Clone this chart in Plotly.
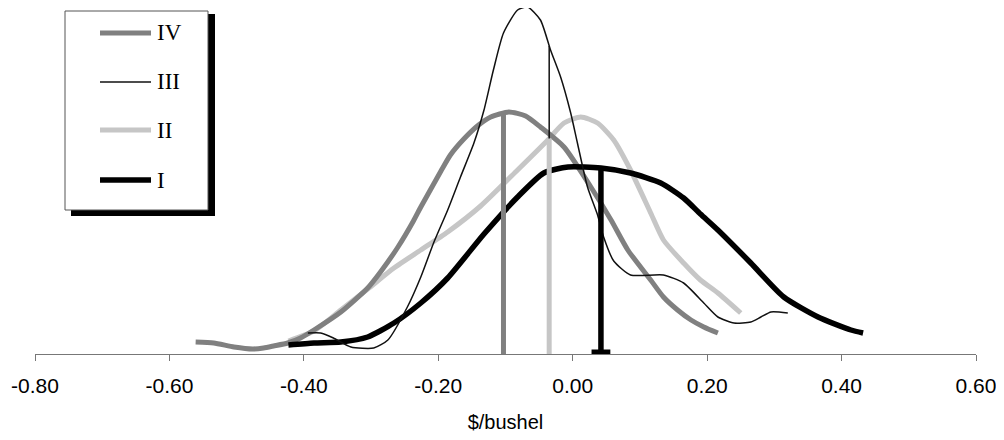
import numpy as np
import plotly.graph_objects as go

# ---------------- data ----------------
tick_vals = [-0.80, -0.60, -0.40, -0.20, 0.00, 0.20, 0.40, 0.60]
tick_text = ["-0.80", "-0.60", "-0.40", "-0.20", "0.00", "0.20", "0.40", "0.60"]
x_title = "$/bushel"

series_names = ["IV", "III", "II", "I"]

iv_x = [-0.561, -0.534, -0.504, -0.476, -0.460, -0.445, -0.424, -0.405, -0.385, -0.345,
        -0.305, -0.286, -0.260, -0.237, -0.226, -0.196, -0.182, -0.162, -0.140, -0.122,
        -0.095, -0.070, -0.048, -0.013, 0.027, 0.057, 0.082, 0.116, 0.135, 0.156,
        0.176, 0.195, 0.216]
iv_y = [12, 11, 7, 5, 6, 8, 11, 16, 24, 42,
        66, 82, 107, 133, 147, 183, 199, 215, 229, 237,
        242, 238, 227, 207, 167, 134, 104, 74, 57, 44,
        34, 27, 21]

iii_x = [-0.394, -0.375, -0.356, -0.330, -0.296, -0.275, -0.246, -0.226, -0.207, -0.186,
         -0.167, -0.147, -0.132, -0.118, -0.103, -0.082, -0.067, -0.048, -0.033, -0.018,
         -0.003, 0.007, 0.022, 0.037, 0.046, 0.061, 0.086, 0.135, 0.165, 0.195,
         0.216, 0.240, 0.265, 0.280, 0.295, 0.320]
iii_y = [21, 21, 16, 7, 6, 14, 47, 77, 111, 144,
         177, 211, 244, 284, 321, 344, 347, 334, 304, 277,
         241, 211, 167, 139, 117, 93, 79, 79, 71, 51,
         37, 31, 32, 37, 42, 41]

ii_x = [-0.423, -0.385, -0.345, -0.305, -0.266, -0.226, -0.186, -0.137, -0.082, -0.037,
        -0.013, 0.012, 0.037, 0.061, 0.086, 0.116, 0.135, 0.165, 0.190, 0.216,
        0.250]
ii_y = [13, 23, 44, 65, 86, 104, 122, 148, 184, 214,
        231, 237, 231, 214, 184, 141, 114, 91, 74, 61,
        41]

i_x = [-0.423, -0.385, -0.345, -0.305, -0.266, -0.226, -0.186, -0.132, -0.082, -0.043,
       -0.007, 0.042, 0.086, 0.131, 0.165, 0.190, 0.216, 0.265, 0.314, 0.365,
       0.414, 0.432]
i_y = [9, 11, 12, 17, 31, 51, 76, 120, 157, 181,
       187, 186, 181, 171, 156, 140, 124, 91, 57, 37,
       24, 21]

means = {"IV": -0.103, "III": -0.035, "II": -0.035, "I": 0.042}

# ---------------- styles ----------------
styles = {
    "IV": dict(color="#808080", width=5),
    "III": dict(color="#111111", width=1.5),
    "II": dict(color="#c6c6c6", width=5),
    "I": dict(color="#000000", width=5.5),
}
curves = {"IV": (iv_x, iv_y), "III": (iii_x, iii_y), "II": (ii_x, ii_y), "I": (i_x, i_y)}

# page geometry (the page body adds an 8px margin, so the figure is 8px smaller)
PAGE_W, PAGE_H, BODY = 1004, 440, 8
W, H = PAGE_W - BODY, PAGE_H - BODY
PLOT_L, PLOT_R, PLOT_T, PLOT_B = 35, 976, 8, 354   # plot area in page pixels
ML, MR, MT, MB = PLOT_L - BODY, PAGE_W - PLOT_R, PLOT_T - BODY, PAGE_H - PLOT_B
PW, PH = PLOT_R - PLOT_L, PLOT_B - PLOT_T
YMAX = PH

fig = go.Figure()

draw_order = ["II", "IV", "I", "III"]
for name in draw_order:
    xs, ys = curves[name]
    fig.add_trace(go.Scatter(x=xs, y=ys, mode="lines", name=name, showlegend=False,
                             line=dict(color=styles[name]["color"], width=styles[name]["width"],
                                       shape="spline", smoothing=0.6),
                             cliponaxis=False, hoverinfo="skip"))

# vertical mean lines
for name in ["IV", "III", "II", "I"]:
    xs, ys = curves[name]
    m = means[name]
    h = float(np.interp(m, xs, ys))
    fig.add_trace(go.Scatter(x=[m, m], y=[0, h], mode="lines", showlegend=False,
                             line=dict(color=styles[name]["color"], width=styles[name]["width"]),
                             hoverinfo="skip"))
# small foot at the bottom of the I mean line
m = means["I"]
fig.add_trace(go.Scatter(x=[m - 0.014, m + 0.014], y=[2, 2], mode="lines", showlegend=False,
                         line=dict(color="#000000", width=5), hoverinfo="skip"))


# ---------------- hand-drawn legend box ----------------
def px(x):
    return (x - PLOT_L) / PW


def py(y):
    return (PLOT_B - y) / PH


shapes = []
shapes.append(dict(type="rect", xref="paper", yref="paper",
                   x0=px(71), x1=px(215), y0=py(216), y1=py(14),
                   fillcolor="#000000", line=dict(width=0), layer="above"))
shapes.append(dict(type="rect", xref="paper", yref="paper",
                   x0=px(65), x1=px(208), y0=py(210), y1=py(11),
                   fillcolor="#ffffff", line=dict(color="#555555", width=1), layer="above"))
annotations = []
legend_rows = [33, 82, 130, 180]
for name, yy in zip(series_names, legend_rows):
    shapes.append(dict(type="line", xref="paper", yref="paper",
                       x0=px(100), x1=px(151), y0=py(yy), y1=py(yy),
                       line=dict(color=styles[name]["color"], width=styles[name]["width"]),
                       layer="above"))
    annotations.append(dict(xref="paper", yref="paper", x=px(155), y=py(yy),
                            text=name, showarrow=False, xanchor="left", yanchor="middle",
                            font=dict(family="Liberation Serif, Times New Roman, serif",
                                      size=23, color="#000000")))

fig.update_layout(
    width=W, height=H,
    margin=dict(l=ML, r=MR, t=MT, b=MB, pad=0),
    paper_bgcolor="#ffffff", plot_bgcolor="#ffffff",
    shapes=shapes, annotations=annotations,
    showlegend=False,
    xaxis=dict(range=[-0.8, 0.6], tickvals=tick_vals, ticktext=tick_text,
               showgrid=False, zeroline=False, showline=True, linecolor="#777777", linewidth=1,
               ticks="outside", ticklen=6, tickcolor="#777777", tickwidth=1,
               ticklabelstandoff=7,
               tickfont=dict(family="Liberation Sans, Arial, sans-serif", size=21, color="#000000"),
               title=dict(text=x_title, standoff=18,
                          font=dict(family="Liberation Sans, Arial, sans-serif", size=20,
                                    color="#000000"))),
    yaxis=dict(range=[0, YMAX], visible=False, showgrid=False, zeroline=False),
)

fig.write_html("out.html")
